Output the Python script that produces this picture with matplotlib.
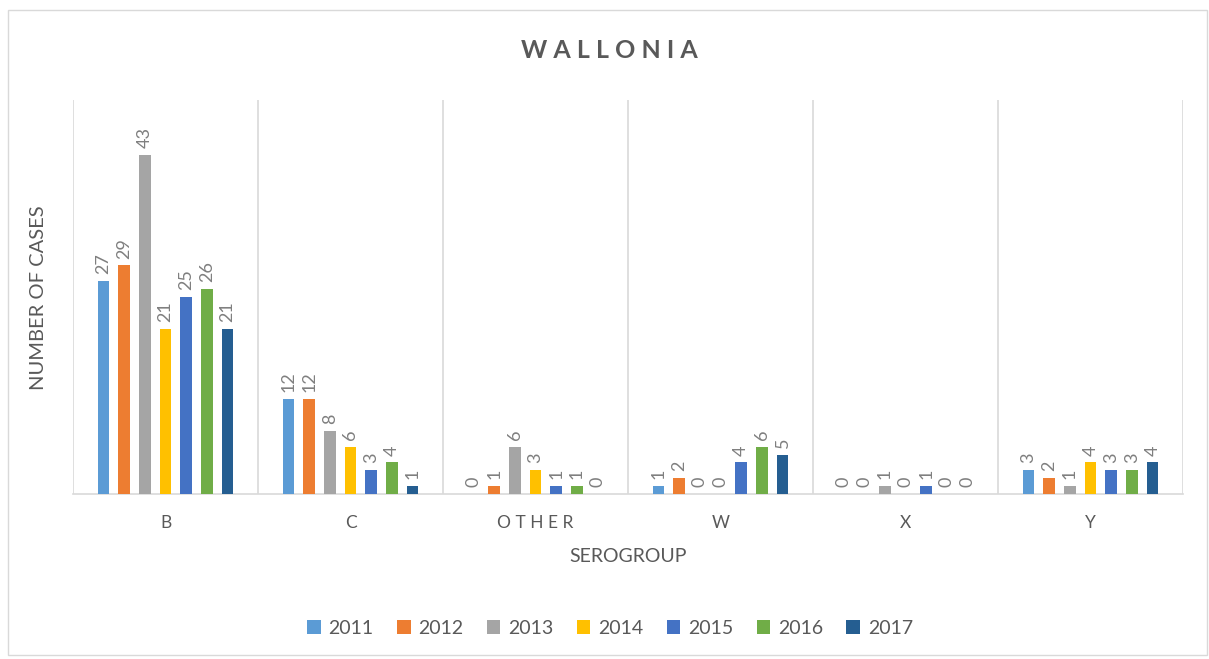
import numpy as np
import matplotlib.pyplot as plt
from matplotlib.patches import Rectangle

plt.rcParams['font.family'] = ['Lato', 'DejaVu Sans']

serogroups = ["B", "C", "OTHER", "W", "X", "Y"]
years = ["2011", "2012", "2013", "2014", "2015", "2016", "2017"]
cases_2011 = [27, 12, 0, 1, 0, 3]
cases_2012 = [29, 12, 1, 2, 0, 2]
cases_2013 = [43, 8, 6, 0, 1, 1]
cases_2014 = [21, 6, 3, 0, 0, 4]
cases_2015 = [25, 3, 1, 4, 1, 3]
cases_2016 = [26, 4, 1, 6, 0, 3]
cases_2017 = [21, 1, 0, 5, 0, 4]
series = [cases_2011, cases_2012, cases_2013, cases_2014,
          cases_2015, cases_2016, cases_2017]

colors = ["#5B9BD5", "#ED7D31", "#A5A5A5", "#FFC000",
          "#4472C4", "#70AD47", "#255E91"]

fig = plt.figure(figsize=(12.09, 6.59), dpi=100)
ax = fig.add_axes([73 / 1209, 165 / 659, 1110 / 1209, 394 / 659])

# outer chart border like the Excel frame
fig.patches.append(Rectangle((8 / 1209, 4 / 659), 1199 / 1209, 645 / 659,
                             transform=fig.transFigure, fill=False,
                             edgecolor="#d9d9d9", linewidth=1))

x = np.arange(len(serogroups))
step = 0.112
width = 0.062
for i, (vals, yr, c) in enumerate(zip(series, years, colors)):
    pos = x + (i - 3) * step
    bars = ax.bar(pos, vals, width=width, color=c, label=yr, zorder=3)
    for xb, v in zip(pos, vals):
        ax.annotate(str(v), (xb, v), xytext=(0, 5), textcoords="offset points",
                    rotation=90, ha="center", va="bottom",
                    fontsize=13, color="#7f7f7f")

ax.set_xlim(-0.5, len(serogroups) - 0.5)
ax.set_ylim(0, 50)
ax.set_yticks([])

# category separators
for b in np.arange(-0.5, len(serogroups), 1.0):
    ax.axvline(b, color="#d9d9d9", linewidth=1.2, zorder=1)

for s in ["top", "right", "left"]:
    ax.spines[s].set_visible(False)
ax.spines["bottom"].set_color("#d9d9d9")
ax.spines["bottom"].set_linewidth(1.2)

ax.set_xticks(x)
tick_labels = ["B", "C", "O T H E R", "W", "X", "Y"]
ax.set_xticklabels(tick_labels, fontsize=12.5, color="#595959")
ax.tick_params(axis="x", length=0, pad=15)

ax.set_xlabel("SEROGROUP", fontsize=14, color="#595959", labelpad=12)
fig.text(39 / 1209, 1 - 298 / 659, "NUMBER OF CASES", rotation=90,
         ha="center", va="center", fontsize=14.5, color="#595959")

fig.text(609 / 1209, 1 - 50 / 659, "W A L L O N I A", ha="center", va="center",
         fontsize=18, fontweight="bold", color="#595959")

leg = fig.legend(loc="center", bbox_to_anchor=(610 / 1209, 1 - 628 / 659),
                 ncol=7, frameon=False, fontsize=14, handlelength=0.7,
                 handleheight=0.7, handletextpad=0.4, columnspacing=1.2)
for t in leg.get_texts():
    t.set_color("#595959")

fig.savefig("out.png", dpi=100)
